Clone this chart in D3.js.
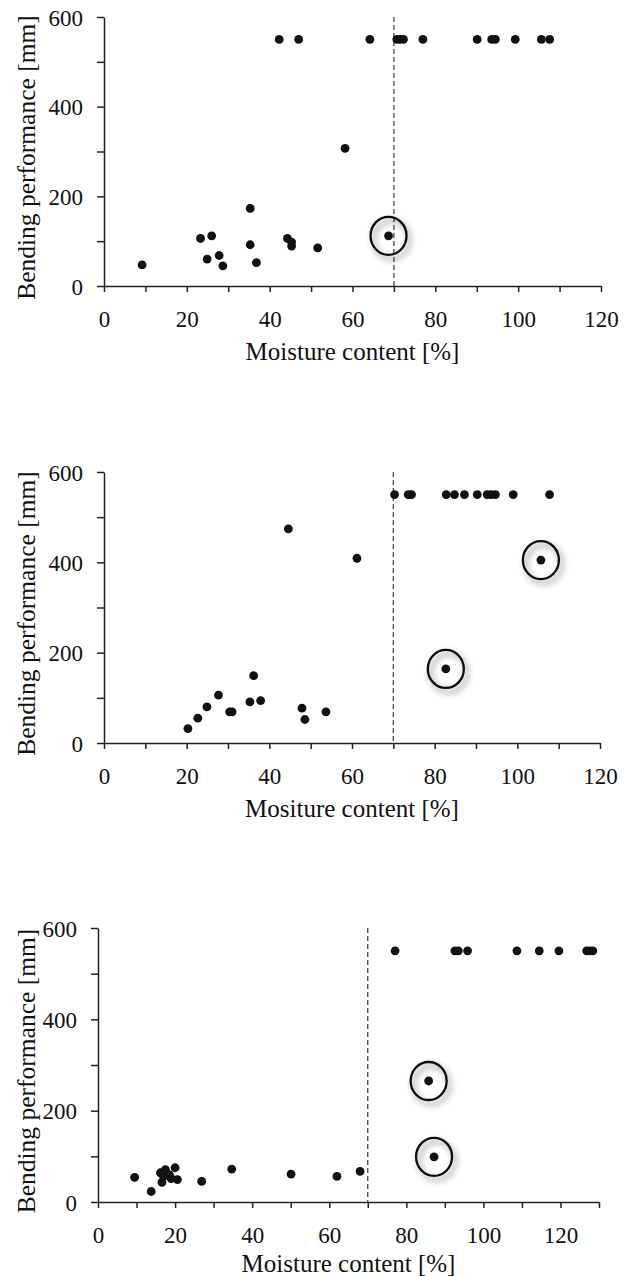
<!DOCTYPE html>
<html>
<head>
<meta charset="utf-8">
<script src="https://cdn.jsdelivr.net/npm/d3@7"></script>
<style>
    body { margin: 0; background: #fff; }
    svg { display: block; }
    text { font-family: "Liberation Serif", Tinos, "Times New Roman", "DejaVu Serif", serif; fill: #111; }
</style>
</head>
<body>
<svg id="chart" width="636" height="1276"></svg>
<script>
// --- donnees (y = 550 : pas de rupture) ---
const panel1X = [9.2, 23.3, 26.0, 24.9, 27.8, 28.7, 35.3, 35.3, 36.8, 44.3, 45.3, 45.3, 51.6, 58.2, 68.7,
    42.3, 47.0, 64.2, 70.7, 71.5, 72.3, 77.0, 90.1, 93.6, 94.5, 99.3, 105.6, 107.6];
const panel1Y = [47, 106, 112, 60, 68, 45, 173, 92, 52, 106, 98, 89, 85, 307, 112,
    550, 550, 550, 550, 550, 550, 550, 550, 550, 550, 550, 550, 550];
const panel1Circled = [[68.7, 112]];

const panel2X = [20.3, 22.7, 24.9, 27.7, 30.4, 31.0, 35.3, 36.2, 37.9, 47.9, 48.6, 53.7, 44.6, 61.2, 82.7, 105.7,
    70.3, 73.6, 74.4, 82.8, 84.8, 87.2, 90.3, 92.7, 93.7, 94.7, 99.0, 107.8];
const panel2Y = [32, 55, 80, 106, 69, 69, 91, 149, 94, 77, 52, 69, 474, 409, 164, 405,
    550, 550, 550, 550, 550, 550, 550, 550, 550, 550, 550, 550];
const panel2Circled = [[82.7, 164], [105.7, 405]];

const panel3X = [9.5, 13.8, 16.2, 16.6, 17.5, 18.5, 19.0, 20.0, 20.6, 17.0, 26.9, 34.7, 50.1, 62.0, 68.0, 85.8, 87.2,
    77.1, 92.6, 93.5, 95.9, 108.7, 114.5, 119.6, 126.8, 127.6, 128.4];
const panel3Y = [54, 23, 64, 43, 71, 60, 51, 75, 49, 56, 45, 72, 61, 56, 67, 265, 99,
    550, 550, 550, 550, 550, 550, 550, 550, 550, 550];
const panel3Circled = [[85.8, 265], [87.2, 99]];

const xTitles = ["Moisture content [%]", "Mositure content [%]", "Moisture content [%]"];
const yTitle = "Bending performance [mm]";
const xMaxes = [120, 120, 130];
const yMax = 600;
const threshold = 70;   // ligne pointillee

const serif = "'Liberation Serif', Tinos, 'Times New Roman', 'DejaVu Serif', serif";
const svg = d3.select("#chart");

// ombre grise des cercles
const defs = svg.append("defs");
const filt = defs.append("filter").attr("id", "shadow")
    .attr("x", "-50%").attr("y", "-50%").attr("width", "200%").attr("height", "200%");
filt.append("feDropShadow")
    .attr("dx", 3).attr("dy", 4).attr("stdDeviation", 3)
    .attr("flood-color", "#000").attr("flood-opacity", 0.5);

/**
 * dessine un panneau (nuage de points + axes)
 */
function drawPanel(box, xs, ys, circled, xMax, xTitle) {
    const g = svg.append("g");
    const x = d3.scaleLinear([0, xMax], [box.left, box.right]);
    const y = d3.scaleLinear([0, yMax], [box.bottom, box.top]);

    // ligne verticale pointillee a 70 %
    g.append("line")
        .attr("x1", x(threshold)).attr("x2", x(threshold))
        .attr("y1", y(yMax)).attr("y2", y(0))
        .attr("stroke", "#444")
        .attr("stroke-width", 1.3)
        .attr("stroke-dasharray", "5,3");

    let xAxis = d3.axisBottom(x)
        .tickValues(d3.range(0, xMax + 1, 10))
        .tickFormat(d => d % 20 == 0 ? d : "")
        .tickSize(6).tickSizeOuter(0).tickPadding(19);
    let yAxis = d3.axisLeft(y)
        .tickValues(d3.range(0, yMax + 1, 100))
        .tickFormat(d => d % 200 == 0 ? d : "")
        .tickSize(7).tickSizeOuter(0).tickPadding(14);

    const gx = g.append("g")
        .attr("transform", `translate(0,${box.bottom})`)
        .call(xAxis);
    const gy = g.append("g")
        .attr("transform", `translate(${box.left},0)`)
        .call(yAxis);

    [gx, gy].forEach(a => {
        a.attr("font-family", serif);
        a.selectAll("path, line").attr("stroke", "#222").attr("stroke-width", 1.5);
        a.selectAll("text").attr("font-size", 23).attr("fill", "#111");
    });
    gy.selectAll("text").attr("dy", "0.35em");

    // points
    const pts = xs.map((v, i) => ({ x: v, y: ys[i] }));
    g.selectAll(".dot")
        .data(pts)
        .join("circle")
        .attr("class", "dot")
        .attr("cx", d => x(d.x))
        .attr("cy", d => y(d.y))
        .attr("r", 4.4)
        .attr("fill", "#111");

    // cercles de mise en evidence
    g.selectAll(".ring")
        .data(circled)
        .join("ellipse")
        .attr("class", "ring")
        .attr("cx", d => x(d[0]))
        .attr("cy", d => y(d[1]))
        .attr("rx", 18)
        .attr("ry", 19)
        .attr("fill", "none")
        .attr("stroke", "#111")
        .attr("stroke-width", 2.3)
        .attr("filter", "url(#shadow)");

    // titres
    g.append("text")
        .attr("x", (box.left + box.right) / 2)
        .attr("y", box.bottom + box.titleGap)
        .attr("text-anchor", "middle")
        .attr("font-family", serif)
        .attr("font-size", 25)
        .text(xTitle);

    g.append("text")
        .attr("transform", `translate(35,${(box.top + box.bottom) / 2 + 6}) rotate(-90)`)
        .attr("text-anchor", "middle")
        .attr("font-family", serif)
        .attr("font-size", 25.5)
        .text(yTitle);
}

const boxes = [
    { left: 104, right: 601, top: 17, bottom: 286, titleGap: 74 },
    { left: 104, right: 600, top: 472, bottom: 743, titleGap: 74 },
    { left: 98, right: 599, top: 928, bottom: 1202, titleGap: 70 }
];

drawPanel(boxes[0], panel1X, panel1Y, panel1Circled, xMaxes[0], xTitles[0]);
drawPanel(boxes[1], panel2X, panel2Y, panel2Circled, xMaxes[1], xTitles[1]);
drawPanel(boxes[2], panel3X, panel3Y, panel3Circled, xMaxes[2], xTitles[2]);
</script>
</body>
</html>
